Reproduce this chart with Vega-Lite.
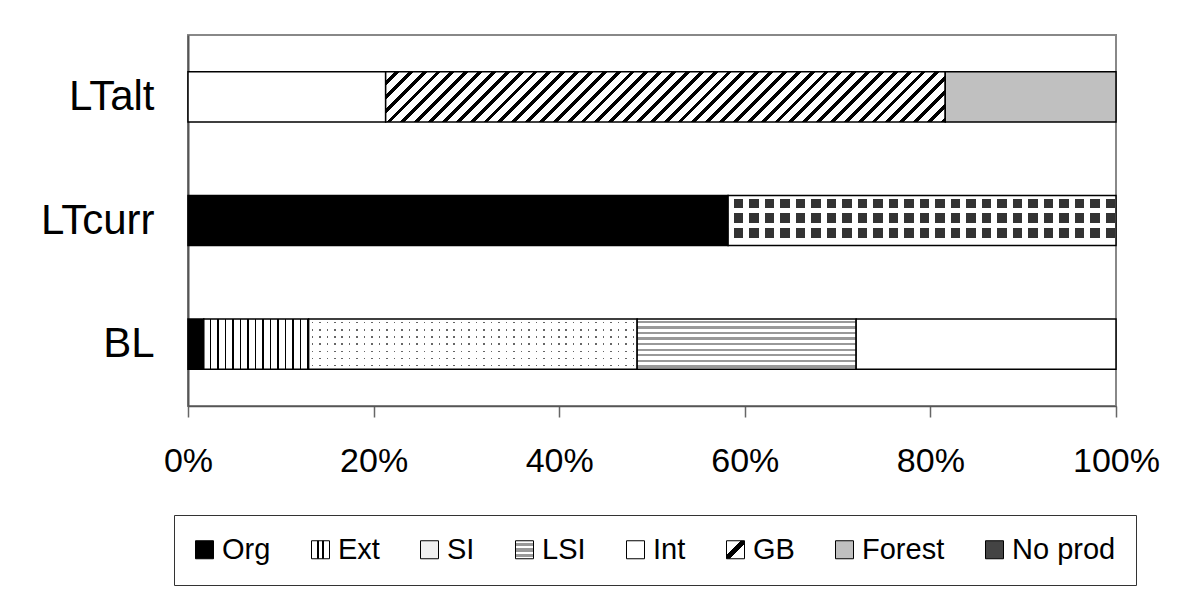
{
"$schema": "https://vega.github.io/schema/vega-lite/v6.json",
"autosize": {"type": "none"},
"padding": {"left": 188, "top": 35, "right": 86, "bottom": 184},
"width": 928,
"height": 371,
"background": "#ffffff",
"config": {"font": "Liberation Sans", "view": {"stroke": "#888888", "strokeWidth": 2}},
"data": {"values": [
{"scenario": "BL", "series": "Org", "value": 1.7},
{"scenario": "BL", "series": "Ext", "value": 11.3},
{"scenario": "BL", "series": "SI", "value": 35.4},
{"scenario": "BL", "series": "LSI", "value": 23.6},
{"scenario": "BL", "series": "Int", "value": 28.0},
{"scenario": "LTcurr", "series": "Org", "value": 58.2},
{"scenario": "LTcurr", "series": "No prod", "value": 41.8},
{"scenario": "LTalt", "series": "Int", "value": 21.3},
{"scenario": "LTalt", "series": "GB", "value": 60.3},
{"scenario": "LTalt", "series": "Forest", "value": 18.4}
]},
"transform": [{"stack": "value", "groupby": ["scenario"], "offset": "normalize", "as": ["x0", "x1"]}],
"encoding": {
"x": {"field": "x0", "type": "quantitative", "scale": {"domain": [0, 1], "nice": false},
"axis": {"title": null, "values": [0, 0.2, 0.4, 0.6, 0.8, 1], "format": ".0%", "labelFontSize": 34, "labelColor": "#000", "labelPadding": 27, "tickSize": 11, "tickColor": "#666", "tickWidth": 1.5, "domainColor": "#555", "domainWidth": 1.5, "grid": false, "labelFlush": false, "labelOverlap": false}},
"x2": {"field": "x1"},
"y": {"field": "scenario", "type": "nominal", "sort": ["LTalt", "LTcurr", "BL"], "scale": {"paddingInner": 0.595, "paddingOuter": 0.2975},
"axis": {"title": null, "ticks": false, "labelFontSize": 42, "labelColor": "#000", "labelPadding": 34, "domainColor": "#555", "domainWidth": 2}}
},
"layer": [
{"mark": {"type": "bar"},
"encoding": {"fill": {"field": "series", "type": "nominal",
"scale": {"domain": ["Org", "Ext", "SI", "LSI", "Int", "GB", "Forest", "No prod"], "range": [
"#000000",
{"expr": "{gradient:'linear',x1:0,y1:0,x2:1,y2:0,stops:[{offset:0,color:'#fff'},{offset:0.28,color:'#fff'},{offset:0.28,color:'#000'},{offset:0.4,color:'#000'},{offset:0.4,color:'#fff'},{offset:0.6,color:'#fff'},{offset:0.6,color:'#000'},{offset:0.72,color:'#000'},{offset:0.72,color:'#fff'},{offset:1,color:'#fff'}]}"},
"#f0f0f0",
{"expr": "{gradient:'linear',x1:0,y1:0,x2:0,y2:1,stops:[{offset:0,color:'#fff'},{offset:0.12,color:'#fff'},{offset:0.12,color:'#999'},{offset:0.3,color:'#999'},{offset:0.3,color:'#fff'},{offset:0.42,color:'#fff'},{offset:0.42,color:'#999'},{offset:0.6,color:'#999'},{offset:0.6,color:'#fff'},{offset:0.72,color:'#fff'},{offset:0.72,color:'#999'},{offset:0.9,color:'#999'},{offset:0.9,color:'#fff'},{offset:1,color:'#fff'}]}"},
"#ffffff",
{"expr": "{gradient:'linear',x1:0,y1:0,x2:1,y2:1,stops:[{offset:0,color:'#fff'},{offset:0.4,color:'#fff'},{offset:0.4,color:'#000'},{offset:0.6,color:'#000'},{offset:0.6,color:'#fff'},{offset:1,color:'#fff'}]}"},
"#c0c0c0",
"#444444"
]},
"legend": {"title": null, "orient": "none", "legendX": -14, "legendY": 480, "direction": "horizontal", "symbolType": "square", "symbolSize": 324, "symbolStrokeColor": "#000", "symbolStrokeWidth": 1, "symbolOpacity": 1, "symbolOffset": -4, "labelFontSize": 29, "labelColor": "#000", "labelOffset": 3, "columnPadding": 38, "padding": 20, "strokeColor": "#333", "fillColor": "#fff", "labelLimit": 300}}}
},
{"transform": [{"filter": "datum.series === 'Org'"}],
"mark": {"type": "bar", "fill": "#000000", "stroke": "#000", "strokeWidth": 1.5}},
{"transform": [{"filter": "datum.series === 'Ext'"}],
"mark": {"type": "bar", "stroke": "#000", "strokeWidth": 1.5, "fill": {"gradient": "linear", "x1": 0, "y1": 0, "x2": 1, "y2": 0, "stops": [
{"offset":0,"color":"#fff"},
{"offset":0.0557,"color":"#fff"},{"offset":0.0557,"color":"#000"},{"offset":0.0714,"color":"#000"},{"offset":0.0714,"color":"#fff"},
{"offset":0.1271,"color":"#fff"},{"offset":0.1271,"color":"#000"},{"offset":0.1429,"color":"#000"},{"offset":0.1429,"color":"#fff"},
{"offset":0.1986,"color":"#fff"},{"offset":0.1986,"color":"#000"},{"offset":0.2143,"color":"#000"},{"offset":0.2143,"color":"#fff"},
{"offset":0.27,"color":"#fff"},{"offset":0.27,"color":"#000"},{"offset":0.2857,"color":"#000"},{"offset":0.2857,"color":"#fff"},
{"offset":0.3414,"color":"#fff"},{"offset":0.3414,"color":"#000"},{"offset":0.3571,"color":"#000"},{"offset":0.3571,"color":"#fff"},
{"offset":0.4129,"color":"#fff"},{"offset":0.4129,"color":"#000"},{"offset":0.4286,"color":"#000"},{"offset":0.4286,"color":"#fff"},
{"offset":0.4843,"color":"#fff"},{"offset":0.4843,"color":"#000"},{"offset":0.5,"color":"#000"},{"offset":0.5,"color":"#fff"},
{"offset":0.5557,"color":"#fff"},{"offset":0.5557,"color":"#000"},{"offset":0.5714,"color":"#000"},{"offset":0.5714,"color":"#fff"},
{"offset":0.6271,"color":"#fff"},{"offset":0.6271,"color":"#000"},{"offset":0.6429,"color":"#000"},{"offset":0.6429,"color":"#fff"},
{"offset":0.6986,"color":"#fff"},{"offset":0.6986,"color":"#000"},{"offset":0.7143,"color":"#000"},{"offset":0.7143,"color":"#fff"},
{"offset":0.77,"color":"#fff"},{"offset":0.77,"color":"#000"},{"offset":0.7857,"color":"#000"},{"offset":0.7857,"color":"#fff"},
{"offset":0.8414,"color":"#fff"},{"offset":0.8414,"color":"#000"},{"offset":0.8571,"color":"#000"},{"offset":0.8571,"color":"#fff"},
{"offset":0.9129,"color":"#fff"},{"offset":0.9129,"color":"#000"},{"offset":0.9286,"color":"#000"},{"offset":0.9286,"color":"#fff"},
{"offset":0.9843,"color":"#fff"},{"offset":0.9843,"color":"#000"},{"offset":1,"color":"#000"}
]}}},
{"transform": [{"filter": "datum.series === 'SI'"}],
"mark": {"type": "bar", "strokeWidth": 0, "fill": {"gradient": "linear", "x1": 0, "y1": 0, "x2": 0, "y2": 1, "stops": [
{"offset":0,"color":"#fff"},
{"offset":0.0564,"color":"#fff"},{"offset":0.0564,"color":"#666"},{"offset":0.0864,"color":"#666"},{"offset":0.0864,"color":"#fff"},
{"offset":0.1993,"color":"#fff"},{"offset":0.1993,"color":"#666"},{"offset":0.2293,"color":"#666"},{"offset":0.2293,"color":"#fff"},
{"offset":0.3421,"color":"#fff"},{"offset":0.3421,"color":"#666"},{"offset":0.3721,"color":"#666"},{"offset":0.3721,"color":"#fff"},
{"offset":0.485,"color":"#fff"},{"offset":0.485,"color":"#666"},{"offset":0.515,"color":"#666"},{"offset":0.515,"color":"#fff"},
{"offset":0.6279,"color":"#fff"},{"offset":0.6279,"color":"#666"},{"offset":0.6579,"color":"#666"},{"offset":0.6579,"color":"#fff"},
{"offset":0.7707,"color":"#fff"},{"offset":0.7707,"color":"#666"},{"offset":0.8007,"color":"#666"},{"offset":0.8007,"color":"#fff"},
{"offset":0.9136,"color":"#fff"},{"offset":0.9136,"color":"#666"},{"offset":0.9436,"color":"#666"},{"offset":0.9436,"color":"#fff"},
{"offset":1,"color":"#fff"}
]}}},
{"transform": [{"filter": "datum.series === 'SI'"}],
"mark": {"type": "bar", "stroke": "#000", "strokeWidth": 1.5, "fill": {"gradient": "linear", "x1": 0, "y1": 0, "x2": 1, "y2": 0, "stops": [
{"offset":0,"color":"#fff"},
{"offset":0.00909,"color":"#fff"},{"offset":0.00909,"color":"rgba(255,255,255,0)"},{"offset":0.01364,"color":"rgba(255,255,255,0)"},{"offset":0.01364,"color":"#fff"},
{"offset":0.03182,"color":"#fff"},{"offset":0.03182,"color":"rgba(255,255,255,0)"},{"offset":0.03636,"color":"rgba(255,255,255,0)"},{"offset":0.03636,"color":"#fff"},
{"offset":0.05455,"color":"#fff"},{"offset":0.05455,"color":"rgba(255,255,255,0)"},{"offset":0.05909,"color":"rgba(255,255,255,0)"},{"offset":0.05909,"color":"#fff"},
{"offset":0.07727,"color":"#fff"},{"offset":0.07727,"color":"rgba(255,255,255,0)"},{"offset":0.08182,"color":"rgba(255,255,255,0)"},{"offset":0.08182,"color":"#fff"},
{"offset":0.1,"color":"#fff"},{"offset":0.1,"color":"rgba(255,255,255,0)"},{"offset":0.10455,"color":"rgba(255,255,255,0)"},{"offset":0.10455,"color":"#fff"},
{"offset":0.12273,"color":"#fff"},{"offset":0.12273,"color":"rgba(255,255,255,0)"},{"offset":0.12727,"color":"rgba(255,255,255,0)"},{"offset":0.12727,"color":"#fff"},
{"offset":0.14545,"color":"#fff"},{"offset":0.14545,"color":"rgba(255,255,255,0)"},{"offset":0.15,"color":"rgba(255,255,255,0)"},{"offset":0.15,"color":"#fff"},
{"offset":0.16818,"color":"#fff"},{"offset":0.16818,"color":"rgba(255,255,255,0)"},{"offset":0.17273,"color":"rgba(255,255,255,0)"},{"offset":0.17273,"color":"#fff"},
{"offset":0.19091,"color":"#fff"},{"offset":0.19091,"color":"rgba(255,255,255,0)"},{"offset":0.19545,"color":"rgba(255,255,255,0)"},{"offset":0.19545,"color":"#fff"},
{"offset":0.21364,"color":"#fff"},{"offset":0.21364,"color":"rgba(255,255,255,0)"},{"offset":0.21818,"color":"rgba(255,255,255,0)"},{"offset":0.21818,"color":"#fff"},
{"offset":0.23636,"color":"#fff"},{"offset":0.23636,"color":"rgba(255,255,255,0)"},{"offset":0.24091,"color":"rgba(255,255,255,0)"},{"offset":0.24091,"color":"#fff"},
{"offset":0.25909,"color":"#fff"},{"offset":0.25909,"color":"rgba(255,255,255,0)"},{"offset":0.26364,"color":"rgba(255,255,255,0)"},{"offset":0.26364,"color":"#fff"},
{"offset":0.28182,"color":"#fff"},{"offset":0.28182,"color":"rgba(255,255,255,0)"},{"offset":0.28636,"color":"rgba(255,255,255,0)"},{"offset":0.28636,"color":"#fff"},
{"offset":0.30455,"color":"#fff"},{"offset":0.30455,"color":"rgba(255,255,255,0)"},{"offset":0.30909,"color":"rgba(255,255,255,0)"},{"offset":0.30909,"color":"#fff"},
{"offset":0.32727,"color":"#fff"},{"offset":0.32727,"color":"rgba(255,255,255,0)"},{"offset":0.33182,"color":"rgba(255,255,255,0)"},{"offset":0.33182,"color":"#fff"},
{"offset":0.35,"color":"#fff"},{"offset":0.35,"color":"rgba(255,255,255,0)"},{"offset":0.35455,"color":"rgba(255,255,255,0)"},{"offset":0.35455,"color":"#fff"},
{"offset":0.37273,"color":"#fff"},{"offset":0.37273,"color":"rgba(255,255,255,0)"},{"offset":0.37727,"color":"rgba(255,255,255,0)"},{"offset":0.37727,"color":"#fff"},
{"offset":0.39545,"color":"#fff"},{"offset":0.39545,"color":"rgba(255,255,255,0)"},{"offset":0.4,"color":"rgba(255,255,255,0)"},{"offset":0.4,"color":"#fff"},
{"offset":0.41818,"color":"#fff"},{"offset":0.41818,"color":"rgba(255,255,255,0)"},{"offset":0.42273,"color":"rgba(255,255,255,0)"},{"offset":0.42273,"color":"#fff"},
{"offset":0.44091,"color":"#fff"},{"offset":0.44091,"color":"rgba(255,255,255,0)"},{"offset":0.44545,"color":"rgba(255,255,255,0)"},{"offset":0.44545,"color":"#fff"},
{"offset":0.46364,"color":"#fff"},{"offset":0.46364,"color":"rgba(255,255,255,0)"},{"offset":0.46818,"color":"rgba(255,255,255,0)"},{"offset":0.46818,"color":"#fff"},
{"offset":0.48636,"color":"#fff"},{"offset":0.48636,"color":"rgba(255,255,255,0)"},{"offset":0.49091,"color":"rgba(255,255,255,0)"},{"offset":0.49091,"color":"#fff"},
{"offset":0.50909,"color":"#fff"},{"offset":0.50909,"color":"rgba(255,255,255,0)"},{"offset":0.51364,"color":"rgba(255,255,255,0)"},{"offset":0.51364,"color":"#fff"},
{"offset":0.53182,"color":"#fff"},{"offset":0.53182,"color":"rgba(255,255,255,0)"},{"offset":0.53636,"color":"rgba(255,255,255,0)"},{"offset":0.53636,"color":"#fff"},
{"offset":0.55455,"color":"#fff"},{"offset":0.55455,"color":"rgba(255,255,255,0)"},{"offset":0.55909,"color":"rgba(255,255,255,0)"},{"offset":0.55909,"color":"#fff"},
{"offset":0.57727,"color":"#fff"},{"offset":0.57727,"color":"rgba(255,255,255,0)"},{"offset":0.58182,"color":"rgba(255,255,255,0)"},{"offset":0.58182,"color":"#fff"},
{"offset":0.6,"color":"#fff"},{"offset":0.6,"color":"rgba(255,255,255,0)"},{"offset":0.60455,"color":"rgba(255,255,255,0)"},{"offset":0.60455,"color":"#fff"},
{"offset":0.62273,"color":"#fff"},{"offset":0.62273,"color":"rgba(255,255,255,0)"},{"offset":0.62727,"color":"rgba(255,255,255,0)"},{"offset":0.62727,"color":"#fff"},
{"offset":0.64545,"color":"#fff"},{"offset":0.64545,"color":"rgba(255,255,255,0)"},{"offset":0.65,"color":"rgba(255,255,255,0)"},{"offset":0.65,"color":"#fff"},
{"offset":0.66818,"color":"#fff"},{"offset":0.66818,"color":"rgba(255,255,255,0)"},{"offset":0.67273,"color":"rgba(255,255,255,0)"},{"offset":0.67273,"color":"#fff"},
{"offset":0.69091,"color":"#fff"},{"offset":0.69091,"color":"rgba(255,255,255,0)"},{"offset":0.69545,"color":"rgba(255,255,255,0)"},{"offset":0.69545,"color":"#fff"},
{"offset":0.71364,"color":"#fff"},{"offset":0.71364,"color":"rgba(255,255,255,0)"},{"offset":0.71818,"color":"rgba(255,255,255,0)"},{"offset":0.71818,"color":"#fff"},
{"offset":0.73636,"color":"#fff"},{"offset":0.73636,"color":"rgba(255,255,255,0)"},{"offset":0.74091,"color":"rgba(255,255,255,0)"},{"offset":0.74091,"color":"#fff"},
{"offset":0.75909,"color":"#fff"},{"offset":0.75909,"color":"rgba(255,255,255,0)"},{"offset":0.76364,"color":"rgba(255,255,255,0)"},{"offset":0.76364,"color":"#fff"},
{"offset":0.78182,"color":"#fff"},{"offset":0.78182,"color":"rgba(255,255,255,0)"},{"offset":0.78636,"color":"rgba(255,255,255,0)"},{"offset":0.78636,"color":"#fff"},
{"offset":0.80455,"color":"#fff"},{"offset":0.80455,"color":"rgba(255,255,255,0)"},{"offset":0.80909,"color":"rgba(255,255,255,0)"},{"offset":0.80909,"color":"#fff"},
{"offset":0.82727,"color":"#fff"},{"offset":0.82727,"color":"rgba(255,255,255,0)"},{"offset":0.83182,"color":"rgba(255,255,255,0)"},{"offset":0.83182,"color":"#fff"},
{"offset":0.85,"color":"#fff"},{"offset":0.85,"color":"rgba(255,255,255,0)"},{"offset":0.85455,"color":"rgba(255,255,255,0)"},{"offset":0.85455,"color":"#fff"},
{"offset":0.87273,"color":"#fff"},{"offset":0.87273,"color":"rgba(255,255,255,0)"},{"offset":0.87727,"color":"rgba(255,255,255,0)"},{"offset":0.87727,"color":"#fff"},
{"offset":0.89545,"color":"#fff"},{"offset":0.89545,"color":"rgba(255,255,255,0)"},{"offset":0.9,"color":"rgba(255,255,255,0)"},{"offset":0.9,"color":"#fff"},
{"offset":0.91818,"color":"#fff"},{"offset":0.91818,"color":"rgba(255,255,255,0)"},{"offset":0.92273,"color":"rgba(255,255,255,0)"},{"offset":0.92273,"color":"#fff"},
{"offset":0.94091,"color":"#fff"},{"offset":0.94091,"color":"rgba(255,255,255,0)"},{"offset":0.94545,"color":"rgba(255,255,255,0)"},{"offset":0.94545,"color":"#fff"},
{"offset":0.96364,"color":"#fff"},{"offset":0.96364,"color":"rgba(255,255,255,0)"},{"offset":0.96818,"color":"rgba(255,255,255,0)"},{"offset":0.96818,"color":"#fff"},
{"offset":0.98636,"color":"#fff"},{"offset":0.98636,"color":"rgba(255,255,255,0)"},{"offset":0.99091,"color":"rgba(255,255,255,0)"},{"offset":0.99091,"color":"#fff"},
{"offset":1,"color":"#fff"}
]}}},
{"transform": [{"filter": "datum.series === 'LSI'"}],
"mark": {"type": "bar", "stroke": "#000", "strokeWidth": 1.5, "fill": {"gradient": "linear", "x1": 0, "y1": 0, "x2": 0, "y2": 1, "stops": [
{"offset":0,"color":"#fff"},
{"offset":0.0333,"color":"#fff"},{"offset":0.0333,"color":"#999"},{"offset":0.0778,"color":"#999"},{"offset":0.0778,"color":"#fff"},
{"offset":0.1444,"color":"#fff"},{"offset":0.1444,"color":"#999"},{"offset":0.1889,"color":"#999"},{"offset":0.1889,"color":"#fff"},
{"offset":0.2556,"color":"#fff"},{"offset":0.2556,"color":"#999"},{"offset":0.3,"color":"#999"},{"offset":0.3,"color":"#fff"},
{"offset":0.3667,"color":"#fff"},{"offset":0.3667,"color":"#999"},{"offset":0.4111,"color":"#999"},{"offset":0.4111,"color":"#fff"},
{"offset":0.4778,"color":"#fff"},{"offset":0.4778,"color":"#999"},{"offset":0.5222,"color":"#999"},{"offset":0.5222,"color":"#fff"},
{"offset":0.5889,"color":"#fff"},{"offset":0.5889,"color":"#999"},{"offset":0.6333,"color":"#999"},{"offset":0.6333,"color":"#fff"},
{"offset":0.7,"color":"#fff"},{"offset":0.7,"color":"#999"},{"offset":0.7444,"color":"#999"},{"offset":0.7444,"color":"#fff"},
{"offset":0.8111,"color":"#fff"},{"offset":0.8111,"color":"#999"},{"offset":0.8556,"color":"#999"},{"offset":0.8556,"color":"#fff"},
{"offset":0.9222,"color":"#fff"},{"offset":0.9222,"color":"#999"},{"offset":0.9667,"color":"#999"},{"offset":0.9667,"color":"#fff"},
{"offset":1,"color":"#fff"}
]}}},
{"transform": [{"filter": "datum.series === 'Int'"}],
"mark": {"type": "bar", "fill": "#ffffff", "stroke": "#000", "strokeWidth": 1.5}},
{"transform": [{"filter": "datum.series === 'GB'"}],
"mark": {"type": "bar", "stroke": "#000", "strokeWidth": 1.5, "fill": {"gradient": "linear", "x1": 0, "y1": 0, "x2": 1.0809, "y2": 0.0967, "stops": [
{"offset":0,"color":"#fff"},
{"offset":0.01477,"color":"#fff"},{"offset":0.01477,"color":"#000"},{"offset":0.02273,"color":"#000"},{"offset":0.02273,"color":"#fff"},
{"offset":0.0375,"color":"#fff"},{"offset":0.0375,"color":"#000"},{"offset":0.04545,"color":"#000"},{"offset":0.04545,"color":"#fff"},
{"offset":0.06023,"color":"#fff"},{"offset":0.06023,"color":"#000"},{"offset":0.06818,"color":"#000"},{"offset":0.06818,"color":"#fff"},
{"offset":0.08295,"color":"#fff"},{"offset":0.08295,"color":"#000"},{"offset":0.09091,"color":"#000"},{"offset":0.09091,"color":"#fff"},
{"offset":0.10568,"color":"#fff"},{"offset":0.10568,"color":"#000"},{"offset":0.11364,"color":"#000"},{"offset":0.11364,"color":"#fff"},
{"offset":0.12841,"color":"#fff"},{"offset":0.12841,"color":"#000"},{"offset":0.13636,"color":"#000"},{"offset":0.13636,"color":"#fff"},
{"offset":0.15114,"color":"#fff"},{"offset":0.15114,"color":"#000"},{"offset":0.15909,"color":"#000"},{"offset":0.15909,"color":"#fff"},
{"offset":0.17386,"color":"#fff"},{"offset":0.17386,"color":"#000"},{"offset":0.18182,"color":"#000"},{"offset":0.18182,"color":"#fff"},
{"offset":0.19659,"color":"#fff"},{"offset":0.19659,"color":"#000"},{"offset":0.20455,"color":"#000"},{"offset":0.20455,"color":"#fff"},
{"offset":0.21932,"color":"#fff"},{"offset":0.21932,"color":"#000"},{"offset":0.22727,"color":"#000"},{"offset":0.22727,"color":"#fff"},
{"offset":0.24205,"color":"#fff"},{"offset":0.24205,"color":"#000"},{"offset":0.25,"color":"#000"},{"offset":0.25,"color":"#fff"},
{"offset":0.26477,"color":"#fff"},{"offset":0.26477,"color":"#000"},{"offset":0.27273,"color":"#000"},{"offset":0.27273,"color":"#fff"},
{"offset":0.2875,"color":"#fff"},{"offset":0.2875,"color":"#000"},{"offset":0.29545,"color":"#000"},{"offset":0.29545,"color":"#fff"},
{"offset":0.31023,"color":"#fff"},{"offset":0.31023,"color":"#000"},{"offset":0.31818,"color":"#000"},{"offset":0.31818,"color":"#fff"},
{"offset":0.33295,"color":"#fff"},{"offset":0.33295,"color":"#000"},{"offset":0.34091,"color":"#000"},{"offset":0.34091,"color":"#fff"},
{"offset":0.35568,"color":"#fff"},{"offset":0.35568,"color":"#000"},{"offset":0.36364,"color":"#000"},{"offset":0.36364,"color":"#fff"},
{"offset":0.37841,"color":"#fff"},{"offset":0.37841,"color":"#000"},{"offset":0.38636,"color":"#000"},{"offset":0.38636,"color":"#fff"},
{"offset":0.40114,"color":"#fff"},{"offset":0.40114,"color":"#000"},{"offset":0.40909,"color":"#000"},{"offset":0.40909,"color":"#fff"},
{"offset":0.42386,"color":"#fff"},{"offset":0.42386,"color":"#000"},{"offset":0.43182,"color":"#000"},{"offset":0.43182,"color":"#fff"},
{"offset":0.44659,"color":"#fff"},{"offset":0.44659,"color":"#000"},{"offset":0.45455,"color":"#000"},{"offset":0.45455,"color":"#fff"},
{"offset":0.46932,"color":"#fff"},{"offset":0.46932,"color":"#000"},{"offset":0.47727,"color":"#000"},{"offset":0.47727,"color":"#fff"},
{"offset":0.49205,"color":"#fff"},{"offset":0.49205,"color":"#000"},{"offset":0.5,"color":"#000"},{"offset":0.5,"color":"#fff"},
{"offset":0.51477,"color":"#fff"},{"offset":0.51477,"color":"#000"},{"offset":0.52273,"color":"#000"},{"offset":0.52273,"color":"#fff"},
{"offset":0.5375,"color":"#fff"},{"offset":0.5375,"color":"#000"},{"offset":0.54545,"color":"#000"},{"offset":0.54545,"color":"#fff"},
{"offset":0.56023,"color":"#fff"},{"offset":0.56023,"color":"#000"},{"offset":0.56818,"color":"#000"},{"offset":0.56818,"color":"#fff"},
{"offset":0.58295,"color":"#fff"},{"offset":0.58295,"color":"#000"},{"offset":0.59091,"color":"#000"},{"offset":0.59091,"color":"#fff"},
{"offset":0.60568,"color":"#fff"},{"offset":0.60568,"color":"#000"},{"offset":0.61364,"color":"#000"},{"offset":0.61364,"color":"#fff"},
{"offset":0.62841,"color":"#fff"},{"offset":0.62841,"color":"#000"},{"offset":0.63636,"color":"#000"},{"offset":0.63636,"color":"#fff"},
{"offset":0.65114,"color":"#fff"},{"offset":0.65114,"color":"#000"},{"offset":0.65909,"color":"#000"},{"offset":0.65909,"color":"#fff"},
{"offset":0.67386,"color":"#fff"},{"offset":0.67386,"color":"#000"},{"offset":0.68182,"color":"#000"},{"offset":0.68182,"color":"#fff"},
{"offset":0.69659,"color":"#fff"},{"offset":0.69659,"color":"#000"},{"offset":0.70455,"color":"#000"},{"offset":0.70455,"color":"#fff"},
{"offset":0.71932,"color":"#fff"},{"offset":0.71932,"color":"#000"},{"offset":0.72727,"color":"#000"},{"offset":0.72727,"color":"#fff"},
{"offset":0.74205,"color":"#fff"},{"offset":0.74205,"color":"#000"},{"offset":0.75,"color":"#000"},{"offset":0.75,"color":"#fff"},
{"offset":0.76477,"color":"#fff"},{"offset":0.76477,"color":"#000"},{"offset":0.77273,"color":"#000"},{"offset":0.77273,"color":"#fff"},
{"offset":0.7875,"color":"#fff"},{"offset":0.7875,"color":"#000"},{"offset":0.79545,"color":"#000"},{"offset":0.79545,"color":"#fff"},
{"offset":0.81023,"color":"#fff"},{"offset":0.81023,"color":"#000"},{"offset":0.81818,"color":"#000"},{"offset":0.81818,"color":"#fff"},
{"offset":0.83295,"color":"#fff"},{"offset":0.83295,"color":"#000"},{"offset":0.84091,"color":"#000"},{"offset":0.84091,"color":"#fff"},
{"offset":0.85568,"color":"#fff"},{"offset":0.85568,"color":"#000"},{"offset":0.86364,"color":"#000"},{"offset":0.86364,"color":"#fff"},
{"offset":0.87841,"color":"#fff"},{"offset":0.87841,"color":"#000"},{"offset":0.88636,"color":"#000"},{"offset":0.88636,"color":"#fff"},
{"offset":0.90114,"color":"#fff"},{"offset":0.90114,"color":"#000"},{"offset":0.90909,"color":"#000"},{"offset":0.90909,"color":"#fff"},
{"offset":0.92386,"color":"#fff"},{"offset":0.92386,"color":"#000"},{"offset":0.93182,"color":"#000"},{"offset":0.93182,"color":"#fff"},
{"offset":0.94659,"color":"#fff"},{"offset":0.94659,"color":"#000"},{"offset":0.95455,"color":"#000"},{"offset":0.95455,"color":"#fff"},
{"offset":0.96932,"color":"#fff"},{"offset":0.96932,"color":"#000"},{"offset":0.97727,"color":"#000"},{"offset":0.97727,"color":"#fff"},
{"offset":0.99205,"color":"#fff"},{"offset":0.99205,"color":"#000"},{"offset":1,"color":"#000"}
]}}},
{"transform": [{"filter": "datum.series === 'Forest'"}],
"mark": {"type": "bar", "fill": "#c0c0c0", "stroke": "#000", "strokeWidth": 1.5}},
{"transform": [{"filter": "datum.series === 'No prod'"}],
"mark": {"type": "bar", "strokeWidth": 0, "fill": {"gradient": "linear", "x1": 0, "y1": 0, "x2": 0, "y2": 1, "stops": [
{"offset":0,"color":"#fff"},
{"offset":0.065,"color":"#fff"},{"offset":0.065,"color":"#333"},{"offset":0.255,"color":"#333"},{"offset":0.255,"color":"#fff"},
{"offset":0.36,"color":"#fff"},{"offset":0.36,"color":"#333"},{"offset":0.55,"color":"#333"},{"offset":0.55,"color":"#fff"},
{"offset":0.655,"color":"#fff"},{"offset":0.655,"color":"#333"},{"offset":0.845,"color":"#333"},{"offset":0.845,"color":"#fff"},
{"offset":1,"color":"#fff"}
]}}},
{"transform": [{"filter": "datum.series === 'No prod'"}],
"mark": {"type": "bar", "stroke": "#000", "strokeWidth": 1.5, "fill": {"gradient": "linear", "x1": 0, "y1": 0, "x2": 1, "y2": 0, "stops": [
{"offset":0,"color":"#fff"},
{"offset":0.01435,"color":"#fff"},{"offset":0.01435,"color":"rgba(255,255,255,0)"},{"offset":0.03875,"color":"rgba(255,255,255,0)"},{"offset":0.03875,"color":"#fff"},
{"offset":0.05431,"color":"#fff"},{"offset":0.05431,"color":"rgba(255,255,255,0)"},{"offset":0.07871,"color":"rgba(255,255,255,0)"},{"offset":0.07871,"color":"#fff"},
{"offset":0.09427,"color":"#fff"},{"offset":0.09427,"color":"rgba(255,255,255,0)"},{"offset":0.11867,"color":"rgba(255,255,255,0)"},{"offset":0.11867,"color":"#fff"},
{"offset":0.13423,"color":"#fff"},{"offset":0.13423,"color":"rgba(255,255,255,0)"},{"offset":0.15863,"color":"rgba(255,255,255,0)"},{"offset":0.15863,"color":"#fff"},
{"offset":0.17419,"color":"#fff"},{"offset":0.17419,"color":"rgba(255,255,255,0)"},{"offset":0.19859,"color":"rgba(255,255,255,0)"},{"offset":0.19859,"color":"#fff"},
{"offset":0.21415,"color":"#fff"},{"offset":0.21415,"color":"rgba(255,255,255,0)"},{"offset":0.23855,"color":"rgba(255,255,255,0)"},{"offset":0.23855,"color":"#fff"},
{"offset":0.25411,"color":"#fff"},{"offset":0.25411,"color":"rgba(255,255,255,0)"},{"offset":0.27851,"color":"rgba(255,255,255,0)"},{"offset":0.27851,"color":"#fff"},
{"offset":0.29407,"color":"#fff"},{"offset":0.29407,"color":"rgba(255,255,255,0)"},{"offset":0.31847,"color":"rgba(255,255,255,0)"},{"offset":0.31847,"color":"#fff"},
{"offset":0.33403,"color":"#fff"},{"offset":0.33403,"color":"rgba(255,255,255,0)"},{"offset":0.35843,"color":"rgba(255,255,255,0)"},{"offset":0.35843,"color":"#fff"},
{"offset":0.37399,"color":"#fff"},{"offset":0.37399,"color":"rgba(255,255,255,0)"},{"offset":0.39839,"color":"rgba(255,255,255,0)"},{"offset":0.39839,"color":"#fff"},
{"offset":0.41395,"color":"#fff"},{"offset":0.41395,"color":"rgba(255,255,255,0)"},{"offset":0.43835,"color":"rgba(255,255,255,0)"},{"offset":0.43835,"color":"#fff"},
{"offset":0.45391,"color":"#fff"},{"offset":0.45391,"color":"rgba(255,255,255,0)"},{"offset":0.47831,"color":"rgba(255,255,255,0)"},{"offset":0.47831,"color":"#fff"},
{"offset":0.49387,"color":"#fff"},{"offset":0.49387,"color":"rgba(255,255,255,0)"},{"offset":0.51827,"color":"rgba(255,255,255,0)"},{"offset":0.51827,"color":"#fff"},
{"offset":0.53383,"color":"#fff"},{"offset":0.53383,"color":"rgba(255,255,255,0)"},{"offset":0.55823,"color":"rgba(255,255,255,0)"},{"offset":0.55823,"color":"#fff"},
{"offset":0.57379,"color":"#fff"},{"offset":0.57379,"color":"rgba(255,255,255,0)"},{"offset":0.59819,"color":"rgba(255,255,255,0)"},{"offset":0.59819,"color":"#fff"},
{"offset":0.61375,"color":"#fff"},{"offset":0.61375,"color":"rgba(255,255,255,0)"},{"offset":0.63815,"color":"rgba(255,255,255,0)"},{"offset":0.63815,"color":"#fff"},
{"offset":0.65371,"color":"#fff"},{"offset":0.65371,"color":"rgba(255,255,255,0)"},{"offset":0.67811,"color":"rgba(255,255,255,0)"},{"offset":0.67811,"color":"#fff"},
{"offset":0.69367,"color":"#fff"},{"offset":0.69367,"color":"rgba(255,255,255,0)"},{"offset":0.71807,"color":"rgba(255,255,255,0)"},{"offset":0.71807,"color":"#fff"},
{"offset":0.73363,"color":"#fff"},{"offset":0.73363,"color":"rgba(255,255,255,0)"},{"offset":0.75803,"color":"rgba(255,255,255,0)"},{"offset":0.75803,"color":"#fff"},
{"offset":0.77359,"color":"#fff"},{"offset":0.77359,"color":"rgba(255,255,255,0)"},{"offset":0.79799,"color":"rgba(255,255,255,0)"},{"offset":0.79799,"color":"#fff"},
{"offset":0.81355,"color":"#fff"},{"offset":0.81355,"color":"rgba(255,255,255,0)"},{"offset":0.83795,"color":"rgba(255,255,255,0)"},{"offset":0.83795,"color":"#fff"},
{"offset":0.85351,"color":"#fff"},{"offset":0.85351,"color":"rgba(255,255,255,0)"},{"offset":0.87791,"color":"rgba(255,255,255,0)"},{"offset":0.87791,"color":"#fff"},
{"offset":0.89347,"color":"#fff"},{"offset":0.89347,"color":"rgba(255,255,255,0)"},{"offset":0.91787,"color":"rgba(255,255,255,0)"},{"offset":0.91787,"color":"#fff"},
{"offset":0.93343,"color":"#fff"},{"offset":0.93343,"color":"rgba(255,255,255,0)"},{"offset":0.95783,"color":"rgba(255,255,255,0)"},{"offset":0.95783,"color":"#fff"},
{"offset":0.97339,"color":"#fff"},{"offset":0.97339,"color":"rgba(255,255,255,0)"},{"offset":0.99779,"color":"rgba(255,255,255,0)"},{"offset":0.99779,"color":"#fff"},
{"offset":1,"color":"#fff"}
]}}}
]
}
